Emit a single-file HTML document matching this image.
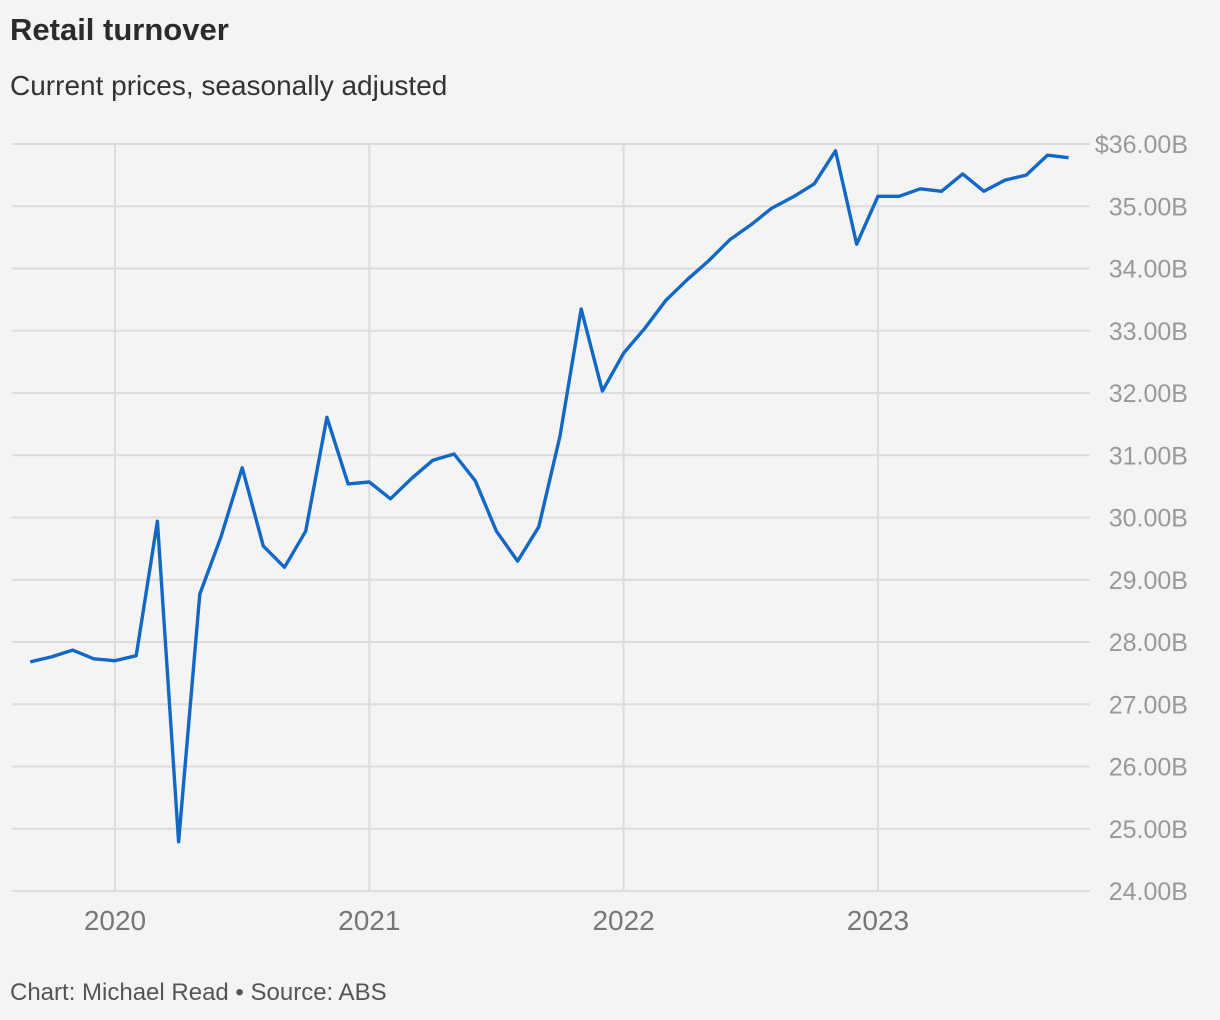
<!DOCTYPE html>
<html><head><meta charset="utf-8">
<style>
html,body{margin:0;padding:0;background:#f4f4f4;}
body{width:1220px;height:1020px;position:relative;overflow:hidden;font-family:"Liberation Sans",sans-serif;}
.t{position:absolute;left:10px;color:#2b2b2b;}
</style></head><body>
<div class="t" style="top:12px;font-size:31px;font-weight:bold;">Retail turnover</div>
<div class="t" style="top:70px;font-size:28px;color:#333;">Current prices, seasonally adjusted</div>
<svg id="chart" width="1220" height="1020" style="position:absolute;left:0;top:0"></svg>
<div class="t" style="top:979px;font-size:24px;color:#555;">Chart: Michael Read • Source: ABS</div>
<script>
const values=[27.68,27.76,27.87,27.73,27.70,27.78,29.94,24.79,28.77,29.69,30.80,29.54,29.20,29.78,31.61,30.54,30.57,30.30,30.63,30.92,31.02,30.59,29.78,29.30,29.85,31.31,33.35,32.03,32.64,33.04,33.49,33.82,34.12,34.46,34.70,34.97,35.15,35.36,35.89,34.39,35.16,35.16,35.28,35.24,35.52,35.24,35.42,35.50,35.82,35.78];
const startMonth=-4; // months relative to Jan 2020 (Sep 2019)
const yTicks=[24,25,26,27,28,29,30,31,32,33,34,35,36];
const years=[2020,2021,2022,2023];
const NS="http://www.w3.org/2000/svg";
const svg=document.getElementById('chart');
const y=v=>144+(36-v)*62.25;
const x=m=>115+m*(254.3/12);
function mk(t,a){const e=document.createElementNS(NS,t);for(const k in a)e.setAttribute(k,a[k]);svg.appendChild(e);return e;}
yTicks.forEach(v=>{
  const l=mk('line',{x1:12,x2:1090,y1:y(v),y2:y(v),stroke:'#dcdcdc','stroke-width':2});
  
  
  const t=mk('text',{x:1188,y:y(v)+9,'text-anchor':'end','font-size':25,fill:'#999','font-family':'Liberation Sans, sans-serif'});
  t.textContent=(v===36?'$':'')+v.toFixed(2)+'B';
  
  
});
years.forEach(yr=>{
  const xx=x((yr-2020)*12);
  const l=mk('line',{x1:xx,x2:xx,y1:144,y2:891,stroke:'#dcdcdc','stroke-width':2});
  
  
  const t=mk('text',{x:xx,y:930,'text-anchor':'middle','font-size':28,fill:'#777','font-family':'Liberation Sans, sans-serif'});
  t.textContent=yr;
  
  
});
const pts=values.map((v,i)=>x(startMonth+i).toFixed(1)+','+y(v).toFixed(1)).join(' ');
const pl=mk('polyline',{points:pts,fill:'none',stroke:'#1368c6','stroke-width':3.4,'stroke-linejoin':'round'});


</script>
</body></html>
